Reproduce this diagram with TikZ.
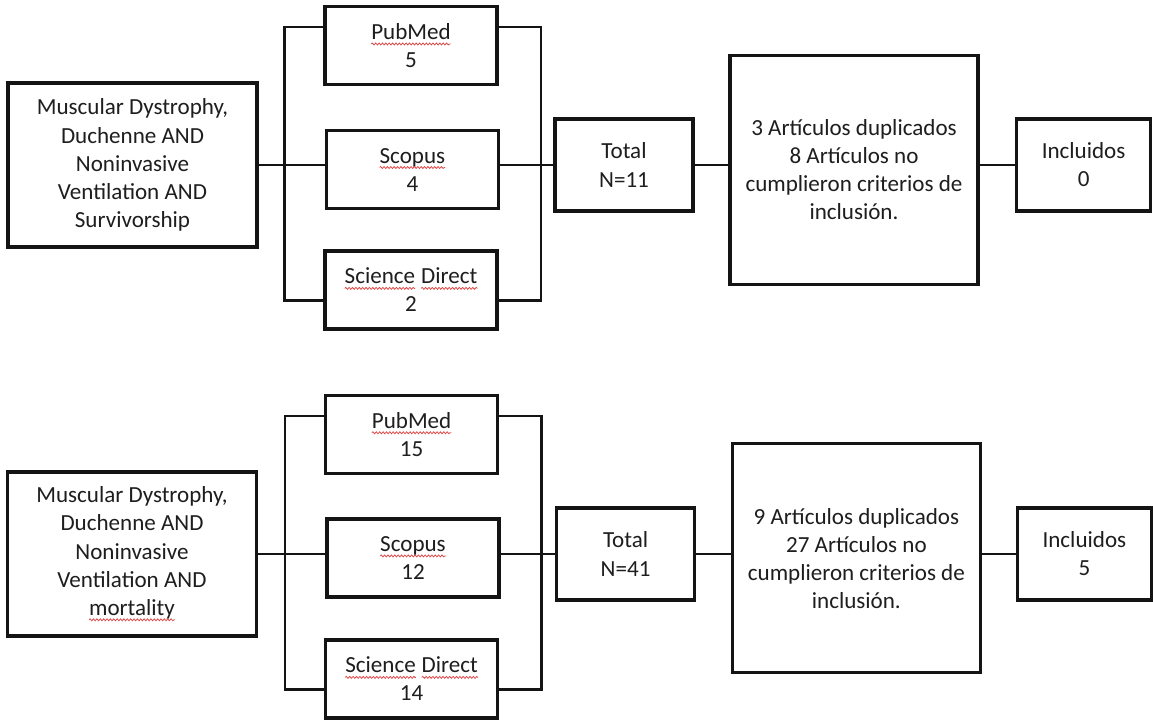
\documentclass[tikz,border=0pt]{standalone}
\usepackage{fontspec}
\setmainfont{Carlito}
\usepackage{xcolor}
\definecolor{lineBlack}{HTML}{141414}
\definecolor{textBlack}{HTML}{1E1E1E}
\definecolor{spellRed}{HTML}{E04848}
\usepackage{tikz}
\usetikzlibrary{positioning, calc, decorations.pathmorphing}

% red squiggle under a word
\newcommand{\spellWave}[1]{\tikz[baseline=(w.base)]{%
    \node[draw=none, fill=none, inner sep=0pt, outer sep=0pt, minimum width=0pt, minimum height=0pt] (w) {#1};
    \draw[spellRed, line width=0.55pt, decorate, decoration={snake, amplitude=0.7pt, segment length=2.4pt}]
        ([yshift=-3.2pt]w.base west) -- ([yshift=-3.2pt]w.base east);}}

\begin{document}
\begin{tikzpicture}[
        boxBase/.style={
            draw=lineBlack,
            line width=2.2pt,
            fill=white,
            align=center,
            inner sep=0pt,
            text=textBlack,
            font=\fontsize{16.4pt}{20pt}\selectfont
        },
        queryNode/.style={
            boxBase,
            minimum width=6.225cm,
            minimum height=4.1cm
        },
        dbNode/.style={
            boxBase,
            minimum width=4.3cm,
            minimum height=1.95cm
        },
        totalNode/.style={
            boxBase,
            minimum width=3.45cm,
            minimum height=2.3cm
        },
        filterNode/.style={
            boxBase,
            minimum width=6.2cm,
            minimum height=5.725cm
        },
        resultNode/.style={
            boxBase,
            minimum width=3.35cm,
            minimum height=2.3cm
        },
        link/.style={
            draw=lineBlack,
            line width=1.8pt
        }
    ]

    \useasboundingbox (0,0) rectangle (28.825,-18.025);

    % Search 1 (Survivorship)
    \node[queryNode] (query1) at (3.3125,-4.125) {Muscular Dystrophy,\\Duchenne AND\\Noninvasive\\Ventilation AND\\Survivorship};

    \node[dbNode] (pubmed1) at (10.275,-1.14) {\spellWave{PubMed}\\5};
    \node[dbNode] (scopus1) at (10.31,-4.24) {\spellWave{Scopus}\\4};
    \node[dbNode] (direct1) at (10.275,-7.25) {\spellWave{Science} \spellWave{Direct}\\2};

    \node[totalNode] (total1) at (15.6,-4.125) {Total\\N=11};
    \node[filterNode] (filter1) at (21.35,-4.24) {3 Artículos duplicados\\8 Artículos no\\cumplieron criterios de\\inclusión.};
    \node[resultNode] (result1) at (27.09,-4.125) {Incluidos\\0};

    % Search 2 (mortality)
    \node[queryNode] (query2) at (3.3,-13.85) {Muscular Dystrophy,\\Duchenne AND\\Noninvasive\\Ventilation AND\\\spellWave{mortality}};

    \node[dbNode] (pubmed2) at (10.29,-10.86) {\spellWave{PubMed}\\15};
    \node[dbNode] (scopus2) at (10.325,-13.95) {\spellWave{Scopus}\\12};
    \node[dbNode] (direct2) at (10.29,-16.975) {\spellWave{Science} \spellWave{Direct}\\14};

    \node[totalNode] (total2) at (15.64,-13.85) {Total\\N=41};
    \node[filterNode] (filter2) at (21.41,-13.96) {9 Artículos duplicados\\27 Artículos no\\cumplieron criterios de\\inclusión.};
    \node[resultNode] (result2) at (27.11,-13.85) {Incluidos\\5};

    % Connections (search 1)
    \draw[link] (query1.east) -- (query1.east -| scopus1.west);
    \draw[link] ([yshift=-0.55cm]pubmed1.north west) -- ++(-0.975,0) |- ([yshift=0.75cm]direct1.south west);
    \draw[link] ([yshift=-0.55cm]pubmed1.north east) -- ++(1.06,0) |- ([yshift=0.75cm]direct1.south east);
    \draw[link] (scopus1.east |- total1.west) -- (total1.west);
    \draw[link] (total1.east) -- (total1.east -| filter1.west);
    \draw[link] (result1.west -| filter1.east) -- (result1.west);

    % Connections (search 2)
    \draw[link] (query2.east) -- (query2.east -| scopus2.west);
    \draw[link] ([yshift=-0.55cm]pubmed2.north west) -- ++(-0.975,0) |- ([yshift=0.75cm]direct2.south west);
    \draw[link] ([yshift=-0.55cm]pubmed2.north east) -- ++(1.06,0) |- ([yshift=0.75cm]direct2.south east);
    \draw[link] (scopus2.east |- total2.west) -- (total2.west);
    \draw[link] (total2.east) -- (total2.east -| filter2.west);
    \draw[link] (result2.west -| filter2.east) -- (result2.west);

\end{tikzpicture}
\end{document}
